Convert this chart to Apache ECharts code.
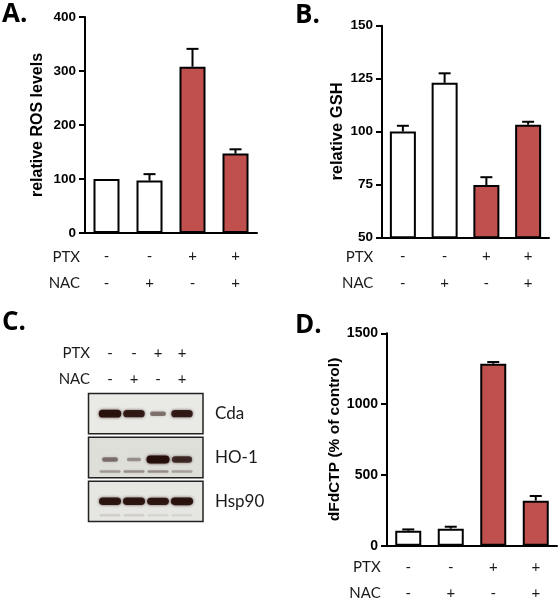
<!DOCTYPE html>
<html><head><meta charset="utf-8">
<script src="https://cdn.jsdelivr.net/npm/echarts@6/dist/echarts.min.js"></script>
<style>html,body{margin:0;padding:0;background:#fff}#c{width:559px;height:601px}</style>
</head><body><div id="c"></div>
<script>
// ---- data ----
const lanes = ['1', '2', '3', '4'];
const ptx = ['-', '-', '+', '+'];
const nac = ['-', '+', '-', '+'];
const rosMean = [100, 97, 308, 147];
const rosErr = [0, 12, 33, 8];
const gshMean = [100, 123, 74.7, 103.2];
const gshErr = [2.7, 4.5, 3.7, 1.4];
const dfdMean = [106, 120, 1285, 318];
const dfdErr = [9, 14, 12, 33];
const blotProteins = ['Cda', 'HO-1', 'Hsp90'];
const cdaBand = [0.95, 0.85, 0.3, 0.85];
const ho1Band = [0.3, 0.12, 1.0, 0.72];
const hsp90Band = [0.9, 0.9, 0.88, 0.92];
const ho1Lower = [0.3, 0.35, 0.35, 0.28];
const hsp90Lower = [0.1, 0.1, 0.08, 0.08];

// ---- styles ----
const RED = '#c0504d';
const LBL = 'Lato, "Open Sans", sans-serif';
const NUM = '"Liberation Sans", Arial, sans-serif';

function errItem(params, api) {
  const i = api.value(0), m = api.value(1), e = api.value(2);
  if (!e) return null;
  const p0 = api.coord([i, m]);
  const p1 = api.coord([i, m + e]);
  const cap = 6;
  return {
    type: 'group', children: [
      { type: 'line', shape: { x1: p0[0], y1: p0[1], x2: p1[0], y2: p1[1] }, style: { stroke: '#000', lineWidth: 2 } },
      { type: 'line', shape: { x1: p1[0] - cap, y1: p1[1], x2: p1[0] + cap, y2: p1[1] }, style: { stroke: '#000', lineWidth: 2 } }
    ]
  };
}

function xAx(grid, margin) {
  return {
    type: 'category', gridIndex: grid, data: lanes,
    axisLine: { lineStyle: { color: '#000', width: 2 } },
    axisTick: { show: false },
    axisLabel: {
      interval: 0, margin: margin, color: '#1a1a1a', fontFamily: LBL, fontSize: 15, lineHeight: 26.6,
      formatter: (v, i) => ptx[i] + '\n' + nac[i]
    }
  };
}
function yAx(grid, min, max, interval, name, nameSize, nameGap, labelSize) {
  return {
    type: 'value', gridIndex: grid, min: min, max: max, interval: interval,
    name: name, nameLocation: 'middle', nameGap: nameGap,
    nameTextStyle: { fontFamily: NUM, fontWeight: 'bold', fontSize: nameSize, color: '#000' },
    axisLine: { show: true, lineStyle: { color: '#000', width: 2 } },
    axisTick: { show: true, length: 6, lineStyle: { color: '#000', width: 2 } },
    axisLabel: { margin: 9, fontFamily: NUM, fontWeight: 'bold', fontSize: labelSize, color: '#000', formatter: v => String(v) },
    splitLine: { show: false }
  };
}
function barSeries(grid, vals) {
  return {
    type: 'bar', xAxisIndex: grid, yAxisIndex: grid, barWidth: 26, clip: true,
    data: vals.map((v, i) => ({ value: v, itemStyle: { color: ptx[i] === '+' ? RED : '#fff' } })),
    itemStyle: { borderColor: '#000', borderWidth: 2 }, z: 3
  };
}
function errSeries(grid, vals, errs) {
  return {
    type: 'custom', xAxisIndex: grid, yAxisIndex: grid, renderItem: errItem,
    data: vals.map((v, i) => [i, v, errs[i]]), encode: { x: 0, y: 1 }, z: 2
  };
}

// blot rendering
function boxItem(params, api) {
  const r = api.value(0);
  const cs = params.coordSys;
  const c = api.coord([0, r]);
  const h = api.size([0, 1])[1] - 3.5;
  const fills = ['#e9e9e5', '#dfdfda', '#e6e6e2'];
  return {
    type: 'rect', shape: { x: cs.x - 9.5, y: c[1] - h / 2, width: cs.width + 18.5, height: h },
    style: { fill: fills[r % 3], stroke: '#222', lineWidth: 1.5 }
  };
}
const bandOffsets = [0, 2, 0];
function bandItem(params, api) {
  const lane = api.value(0), row = api.value(1), s = api.value(2), kind = api.value(3);
  const c = api.coord([lane, row]);
  let w, h, dy, a;
  if (kind === 0) {
    w = 13 + 10 * s; h = 3 + 5 * s; dy = bandOffsets[row]; a = 0.25 + 0.75 * s;
  } else {
    w = 21; h = 2.5; dy = 14; a = s;
  }
  return {
    type: 'rect', shape: { x: c[0] - w / 2, y: c[1] + dy - h / 2, width: w, height: h, r: h / 2 },
    style: { fill: 'rgba(38,14,10,' + a + ')', shadowBlur: 3, shadowColor: 'rgba(38,14,10,' + (a * 0.8) + ')' }
  };
}
const bandData = [];
[cdaBand, ho1Band, hsp90Band].forEach((arr, r) => arr.forEach((s, l) => bandData.push([l, r, s, 0])));
[[ho1Lower, 1], [hsp90Lower, 2]].forEach(([arr, r]) => arr.forEach((s, l) => bandData.push([l, r, s, 1])));

const chart = echarts.init(document.getElementById('c'), null, { renderer: 'canvas' });

function txt(t, x, y, opts) {
  return Object.assign({ type: 'text', x: x, y: y, style: Object.assign({ text: t, fill: '#1a1a1a', font: '15px ' + LBL, textAlign: 'right', textVerticalAlign: 'middle' }, opts || {}) });
}
const G = { outerBoundsMode: 'none', containLabel: false };
const LET = { font: 'bold 26px "Open Sans", sans-serif', textAlign: 'left', fill: '#000' };

chart.setOption({
  animation: false,
  backgroundColor: '#fff',
  grid: [
    Object.assign({ left: 85, top: 17, width: 172, height: 216 }, G),
    Object.assign({ left: 382, top: 25.7, width: 167, height: 211.6 }, G),
    Object.assign({ left: 387, top: 333.3, width: 170, height: 212.4 }, G),
    Object.assign({ left: 98, top: 391.7, width: 96, height: 131.6 }, G)
  ],
  xAxis: [
    xAx(0, 10), xAx(1, 6), xAx(2, 8),
    {
      type: 'category', gridIndex: 3, data: lanes, position: 'top',
      axisLine: { show: false }, axisTick: { show: false },
      axisLabel: { interval: 0, margin: 0, color: '#1a1a1a', fontFamily: LBL, fontSize: 15, lineHeight: 25.7,
        formatter: (v, i) => ptx[i] + '\n' + nac[i] }
    }
  ],
  yAxis: [
    yAx(0, 0, 400, 100, 'relative ROS levels', 16, 39, 13.5),
    yAx(1, 50, 150, 25, 'relative GSH', 16.5, 36, 13.5),
    yAx(2, 0, 1500, 500, 'dFdCTP (% of control)', 15.5, 40, 14),
    {
      type: 'category', gridIndex: 3, data: blotProteins, inverse: true, position: 'right',
      axisLine: { show: false }, axisTick: { show: false }, splitLine: { show: false },
      axisLabel: { margin: 21, color: '#1a1a1a', fontFamily: LBL, fontSize: 17 }
    }
  ],
  series: [
    barSeries(0, rosMean), errSeries(0, rosMean, rosErr),
    barSeries(1, gshMean), errSeries(1, gshMean, gshErr),
    barSeries(2, dfdMean), errSeries(2, dfdMean, dfdErr),
    { type: 'custom', xAxisIndex: 3, yAxisIndex: 3, renderItem: boxItem, data: blotProteins.map((p, r) => [r]), encode: { y: 0 }, z: 1 },
    { type: 'custom', xAxisIndex: 3, yAxisIndex: 3, renderItem: bandItem, data: bandData, encode: { x: 0, y: 1 }, z: 2 }
  ],
  graphic: [
    txt('A.', 2, 15, LET),
    txt('B.', 295, 16, LET),
    txt('C.', 2, 323, LET),
    txt('D.', 295, 325.5, LET),
    txt('PTX', 80, 256.7), txt('NAC', 80, 283.3),
    txt('PTX', 373.3, 256.7), txt('NAC', 373.3, 283.3),
    txt('PTX', 380.7, 566.7), txt('NAC', 380.7, 593.3),
    txt('PTX', 90, 353.3), txt('NAC', 90, 379)
  ]
});
</script></body></html>
